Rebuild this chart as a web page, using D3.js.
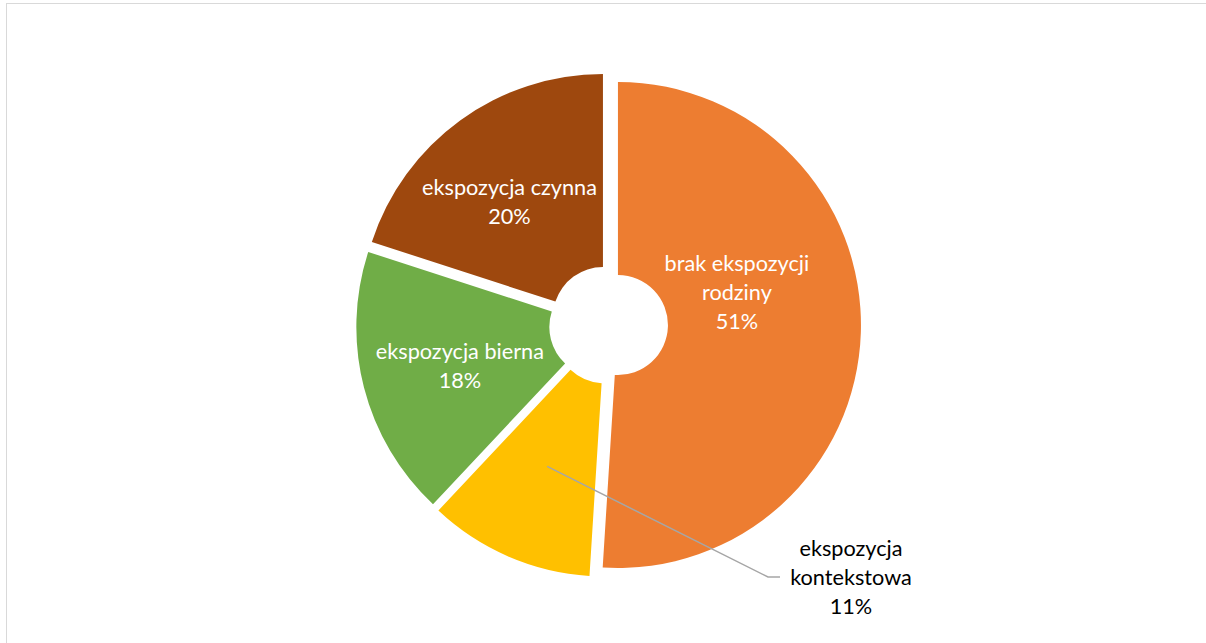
<!DOCTYPE html>
<html>
<head>
<meta charset="utf-8">
<script src="https://cdn.jsdelivr.net/npm/d3@7"></script>
<style>
  html, body { margin: 0; padding: 0; background: #fff; }
  svg { display: block; }
</style>
</head>
<body>
<svg id="chart" width="1206" height="643"></svg>
<script>
// ---- data ----
const categories = ["brak ekspozycji rodziny", "ekspozycja kontekstowa", "ekspozycja bierna", "ekspozycja czynna"];
const values = [51, 11, 18, 20];
const labelLines = [["brak ekspozycji", "rodziny"], ["ekspozycja", "kontekstowa"], ["ekspozycja bierna"], ["ekspozycja czynna"]];
const colors = ["#ED7D31", "#FFC000", "#70AD47", "#9E480E"];

// ---- layout ----
const W = 1206, H = 643;
const cx = 608.5, cy = 324.7;
const outerR = 243, innerR = 50, explode = 9.45;
const fontFamily = "Lato, 'Open Sans', 'Liberation Sans', sans-serif";
const lineGap = 29;
// label layout per slice: radius from slice centre, vertical nudge, inside/outside
const labelLayout = [
  { radius: 119, dy: -36, inside: true },
  { radius: 145, inside: false, textX: 851, textY: 556, elbowX: 768, endX: 780, lineY: 577 },
  { radius: 144, dy: 3, inside: true },
  { radius: 159, dy: 13, inside: true }
];

const svg = d3.select("#chart");

// chart area border
svg.append("rect")
  .attr("x", 6.5).attr("y", 3.5)
  .attr("width", W).attr("height", H)
  .attr("fill", "none").attr("stroke", "#D9D9D9").attr("stroke-width", 1);

// measure font size so text width matches Excel label widths
const probe = svg.append("text").attr("font-family", fontFamily).attr("font-size", 20).text("ekspozycja czynna");
const probeW = probe.node().getComputedTextLength();
probe.remove();
const fontSize = Math.max(14, Math.min(28, 20 * 175 / probeW));

const total = d3.sum(values);
const pct = d3.format(".0%");
const pie = d3.pie().sort(null).value(d => d);
const arcs = pie(values);
const arc = d3.arc().innerRadius(innerR).outerRadius(outerR);

const g = svg.append("g").attr("transform", `translate(${cx},${cy})`);

function offset(d, r) {
  const mid = (d.startAngle + d.endAngle) / 2;
  return [r * Math.sin(mid), -r * Math.cos(mid)];
}

const slices = g.selectAll("g.slice").data(arcs).enter().append("g")
  .attr("class", "slice")
  .attr("transform", d => { const o = offset(d, explode); return `translate(${o[0]},${o[1]})`; });

slices.append("path")
  .attr("d", arc)
  .attr("fill", (d, i) => colors[i]);

// labels
arcs.forEach((d, i) => {
  const L = labelLayout[i];
  const o = offset(d, explode);
  const p = offset(d, L.radius);
  const lines = labelLines[i].concat([pct(values[i] / total)]);
  if (L.inside) {
    const x = o[0] + p[0];
    const yc = o[1] + p[1] + (L.dy || 0);
    const n = lines.length;
    const firstBaseline = yc - (n - 1) * lineGap / 2 + fontSize * 0.35;
    const t = g.append("text")
      .attr("font-family", fontFamily).attr("font-size", fontSize)
      .attr("fill", "#FFFFFF").attr("text-anchor", "middle");
    lines.forEach((ln, k) => {
      t.append("tspan").attr("x", x).attr("y", firstBaseline + k * lineGap).text(ln);
    });
  } else {
    const sx = o[0] + p[0], sy = o[1] + p[1];
    g.append("polyline")
      .attr("points", [[sx, sy], [L.elbowX - cx, L.lineY - cy], [L.endX - cx, L.lineY - cy]].map(q => q.join(",")).join(" "))
      .attr("fill", "none").attr("stroke", "#A6A6A6").attr("stroke-width", 1.5);
    const t = svg.append("text")
      .attr("font-family", fontFamily).attr("font-size", fontSize)
      .attr("fill", "#000000").attr("text-anchor", "middle");
    lines.forEach((ln, k) => {
      t.append("tspan").attr("x", L.textX).attr("y", L.textY + k * lineGap).text(ln);
    });
  }
});
</script>
</body>
</html>
